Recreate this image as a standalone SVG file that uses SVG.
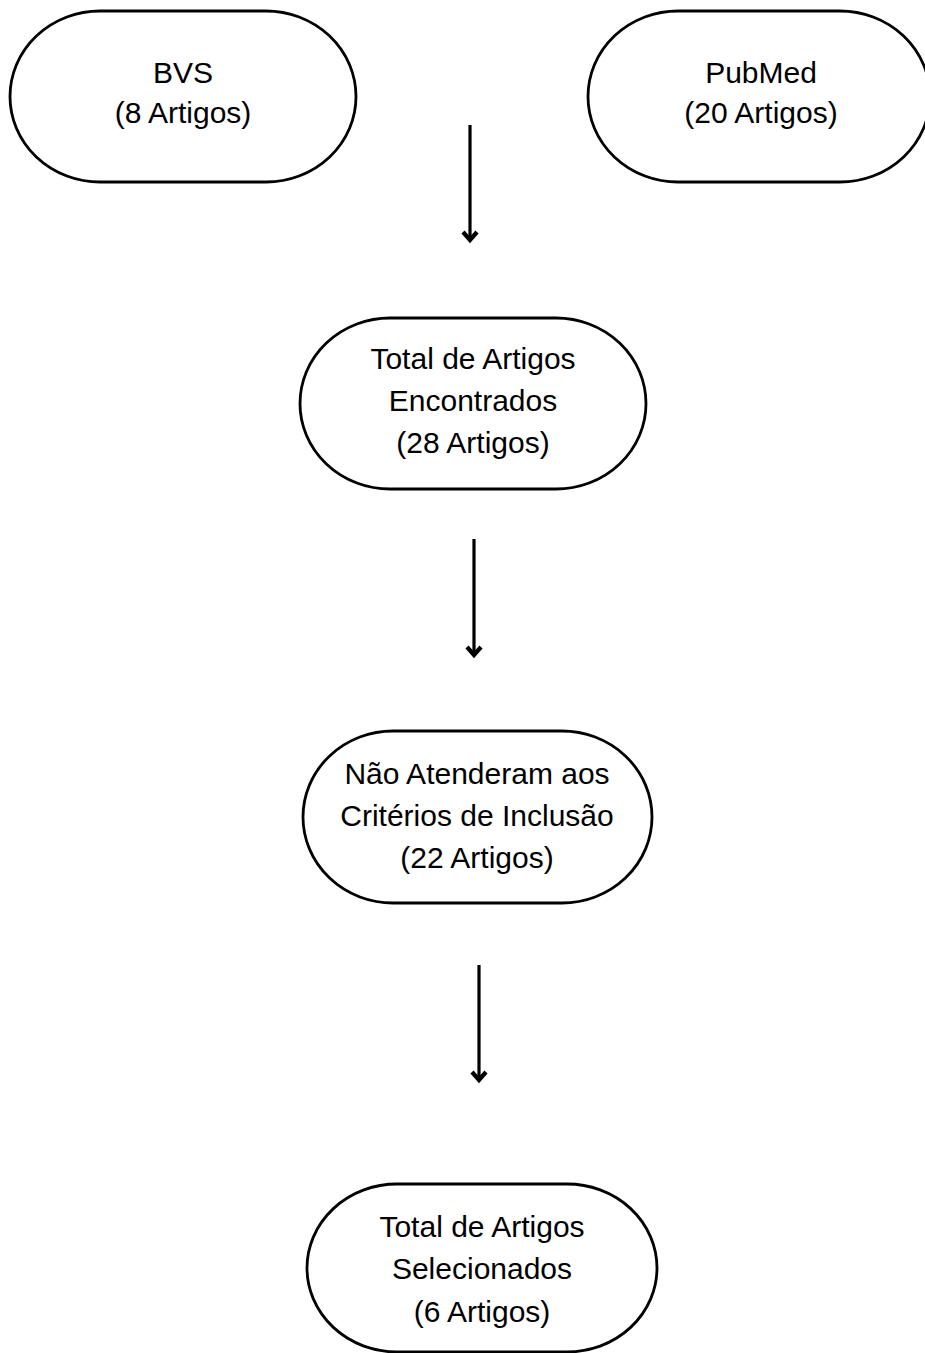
<svg xmlns="http://www.w3.org/2000/svg" width="925" height="1353" viewBox="0 0 925 1353">
<style>
  .node rect { fill: #ffffff; stroke: #000000; stroke-width: 2.8; }
  .node text { font-family: "Liberation Sans", Arial, sans-serif; font-size: 30px; fill: #000000; text-anchor: middle; }
  .conn line { stroke: #000000; stroke-width: 3.2; }
</style>
<defs>
  <marker id="arrow" markerUnits="userSpaceOnUse" markerWidth="16" markerHeight="22" viewBox="-12 -11 16 22" refX="0" refY="0" orient="auto">
    <path d="M -8 -7 L 0 0 L -8 7" fill="none" stroke="#000" stroke-width="4.2" stroke-linejoin="miter"/>
  </marker>
</defs>
<rect width="925" height="1353" fill="#ffffff"/>
<g id="node-bvs" class="node">
  <rect x="10" y="11" width="346" height="171" rx="90" ry="85.5"/>
  <text x="183" y="83">BVS</text>
  <text x="183" y="123">(8 Artigos)</text>
</g>
<g id="node-pubmed" class="node">
  <rect x="588" y="11" width="342" height="171" rx="90" ry="85.5"/>
  <text x="761" y="83">PubMed</text>
  <text x="761" y="123">(20 Artigos)</text>
</g>
<g id="node-encontrados" class="node">
  <rect x="300" y="318" width="346" height="171" rx="90" ry="85.5"/>
  <text x="473" y="369">Total de Artigos</text>
  <text x="473" y="411">Encontrados</text>
  <text x="473" y="453">(28 Artigos)</text>
</g>
<g id="node-nao-atenderam" class="node">
  <rect x="303" y="731" width="349" height="172" rx="90" ry="86"/>
  <text x="477" y="784">Não Atenderam aos</text>
  <text x="477" y="826">Critérios de Inclusão</text>
  <text x="477" y="868">(22 Artigos)</text>
</g>
<g id="node-selecionados" class="node">
  <rect x="307" y="1184" width="350" height="168" rx="90" ry="84"/>
  <text x="482" y="1237">Total de Artigos</text>
  <text x="482" y="1279">Selecionados</text>
  <text x="482" y="1322">(6 Artigos)</text>
</g>
<g id="connectors" class="conn">
  <line x1="470" y1="125" x2="470" y2="240" marker-end="url(#arrow)"/>
  <line x1="474" y1="539" x2="474" y2="655" marker-end="url(#arrow)"/>
  <line x1="479" y1="965" x2="479" y2="1080" marker-end="url(#arrow)"/>
</g>
</svg>
